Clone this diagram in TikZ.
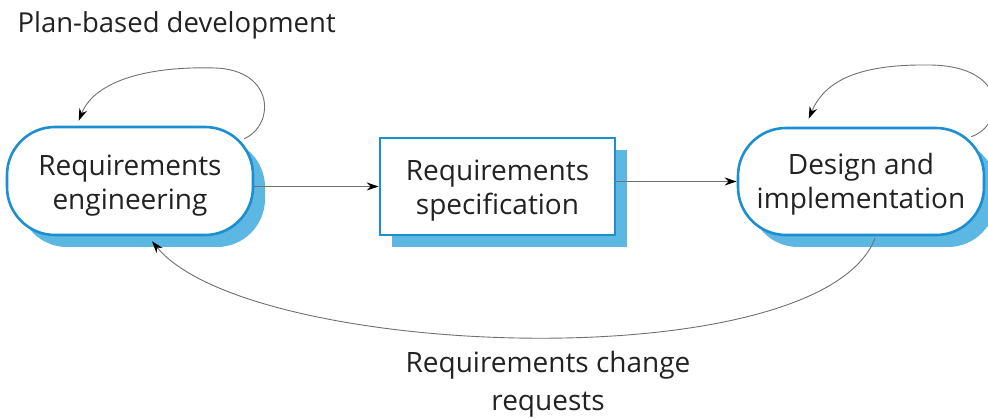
\documentclass[tikz,border=0pt]{standalone}
\usepackage{fontspec}
\setmainfont{Open Sans}
\usetikzlibrary{arrows.meta,shadows,calc}
\definecolor{bblue}{HTML}{1B8FD2}
\definecolor{sblue}{HTML}{5CB8E2}
\definecolor{lgray}{HTML}{707070}
\definecolor{tgray}{HTML}{222222}
\tikzset{
  txt/.style={font=\fontsize{28}{34}\selectfont, text=tgray, align=center},
  boxbase/.style={draw=bblue, line width=2.6pt, fill=white, inner sep=0pt,
    drop shadow={shadow xshift=12pt, shadow yshift=-12pt, fill=sblue, opacity=1}},
  pill/.style={boxbase, rounded corners=48pt},
  sqbox/.style={boxbase},
  arr/.style={draw=lgray, line width=0.9pt, -{Stealth[length=12pt,width=8pt,color=black]}},
}
\begin{document}
\begin{tikzpicture}[x=1pt,y=-1pt]
\useasboundingbox (0,0) rectangle (988,419);
\clip (0,0) rectangle (988,419);
\node[anchor=west, font=\fontsize{27.5}{30}\selectfont, text=tgray] (title) at (14,25) {Plan-based development};
\node[pill, minimum width=246pt, minimum height=108pt] (re) at (130,181) {};
\node[sqbox, minimum width=235pt, minimum height=97pt] (rs) at (497.5,186.5) {};
\node[pill, minimum width=246pt, minimum height=107pt] (di) at (861,181.5) {};
\node[txt] (re-t) at ([yshift=-5pt]re.center) {Requirements\\engineering};
\node[txt] (rs-t) at ([yshift=-4pt]rs.center) {Requirements\\specification};
\node[txt] (di-t) at ([yshift=-3pt]di.center) {Design and\\implementation};
\node[txt, font=\fontsize{28}{38}\selectfont] (lbl) at (548,384) {Requirements change\\requests};
\draw[arr] (re.east |- rs.west) -- (rs.west);
\draw[arr] (rs.east |- di.west) -- (di.west);
\draw[arr] ([shift={(-10,13)}]re.north east) .. controls (275,125) and (275,70) .. (215,68) .. controls (150,66) and (95,80) .. ([shift={(73,-5)}]re.north west);
\draw[arr] ([shift={(-14,10)}]di.north east) .. controls (1005,125) and (1010,66) .. (930,65) .. controls (860,64) and (825,80) .. ([shift={(72,-8)}]di.north west);
\draw[arr] ([shift={(14,2)}]di.south) .. controls (820,380) and (250,360) .. ([shift={(22,5)}]re.south);
\end{tikzpicture}
\end{document}
